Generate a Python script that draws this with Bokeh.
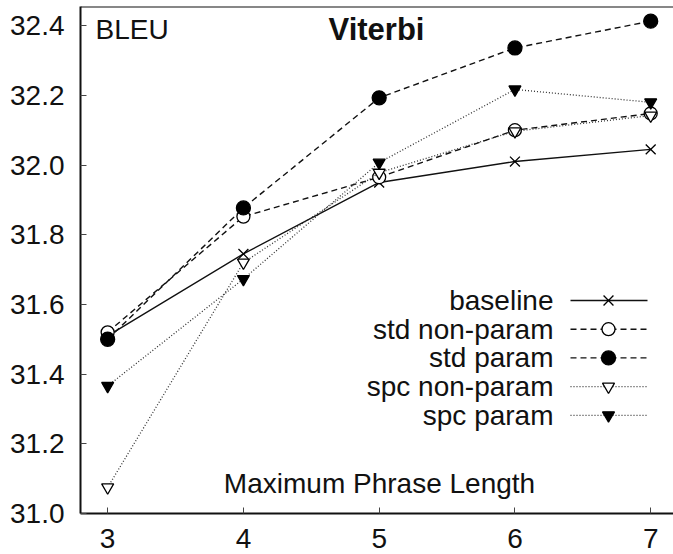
from bokeh.plotting import figure
from bokeh.models import Range1d, Span, Label, FixedTicker, PrintfTickFormatter
from bokeh.embed import file_html
from bokeh.resources import INLINE

# ---- data ----
lengths = [3, 4, 5, 6, 7]
baseline = [31.51, 31.745, 31.95, 32.01, 32.045]
std_nonparam = [31.52, 31.852, 31.965, 32.10, 32.148]
std_param = [31.50, 31.877, 32.193, 32.336, 32.413]
spc_nonparam = [31.075, 31.72, 31.978, 32.097, 32.142]
spc_param = [31.366, 31.673, 32.007, 32.217, 32.18]
series_names = ["baseline", "std non-param", "std param", "spc non-param", "spc param"]
y_ticks = [31.0, 31.2, 31.4, 31.6, 31.8, 32.0, 32.2, 32.4]
x_ticks = [3, 4, 5, 6, 7]

FONT = "Liberation Sans"
X0, X1 = 2.80, 7.168
Y0, Y1 = 31.0, 32.455
FL, FT, FW, FH = 80, 6, 593, 507  # frame geometry in pixels


def sx(px):
    return X0 + (px - FL) / FW * (X1 - X0)


def sy(py):
    return Y0 + (FT + FH - py) / FH * (Y1 - Y0)


p = figure(width=673, height=554, output_backend="svg", toolbar_location=None,
           x_range=Range1d(X0, X1), y_range=Range1d(Y0, Y1),
           min_border_left=FL, min_border_right=0, min_border_top=FT,
           min_border_bottom=554 - FT - FH)
p.outline_line_color = None
p.grid.visible = False
p.background_fill_color = "white"
p.border_fill_color = "white"

for ax in (p.xaxis[0], p.yaxis[0]):
    ax.axis_line_width = 2
    ax.axis_line_color = "#111111"
    ax.major_tick_in = 6
    ax.major_tick_out = 0
    ax.major_tick_line_color = "#444444"
    ax.major_tick_line_width = 1
    ax.minor_tick_line_color = None
    ax.major_label_text_font = FONT
    ax.major_label_text_font_size = "28px"
    ax.major_label_text_color = "#111111"

p.xaxis[0].ticker = FixedTicker(ticks=x_ticks)
p.yaxis[0].ticker = FixedTicker(ticks=y_ticks)
p.xaxis[0].major_label_standoff = 15
p.xaxis[0].major_label_text_line_height = 0.7
p.yaxis[0].major_label_standoff = 16
p.yaxis[0].formatter = PrintfTickFormatter(format="%.1f")

p.add_layout(Span(location=Y1, dimension="width", line_color="#111111", line_width=2))

styles = [
    dict(data=baseline, dash="solid", lw=1.4, color="#111111", marker="x", fill=None, size=14),
    dict(data=std_nonparam, dash="6 4", lw=1.4, color="#111111", marker="circle", fill="white", size=13),
    dict(data=std_param, dash="6 4", lw=1.4, color="#111111", marker="circle", fill="black", size=14),
    dict(data=spc_nonparam, dash="1 2", lw=1.3, color="#333333", marker="inverted_triangle", fill="white", size=12),
    dict(data=spc_param, dash="1 2", lw=1.3, color="#333333", marker="inverted_triangle", fill="black", size=12),
]

leg_y0, leg_dy = 300, 28.7
for i, (name, s) in enumerate(zip(series_names, styles)):
    p.line(lengths, s["data"], line_color=s["color"], line_width=s["lw"], line_dash=s["dash"])
    p.scatter(lengths, s["data"], marker=s["marker"], size=s["size"], line_color="black",
              line_width=1.3, fill_color=s["fill"])
    # legend entry
    ly = sy(leg_y0 + i * leg_dy)
    p.line([sx(570), sx(647)], [ly, ly], line_color=s["color"], line_width=s["lw"], line_dash=s["dash"])
    p.scatter([sx(608)], [ly], marker=s["marker"], size=s["size"], line_color="black",
              line_width=1.3, fill_color=s["fill"])
    p.add_layout(Label(x=sx(553), y=ly, text=name, text_align="right", text_baseline="middle",
                       text_font=FONT, text_font_size="28px", text_color="#111111"))

p.add_layout(Label(x=sx(95), y=sy(29), text="BLEU", text_align="left", text_baseline="middle",
                   text_font=FONT, text_font_size="28px", text_color="#111111"))
p.add_layout(Label(x=sx(376), y=sy(29), text="Viterbi", text_align="center", text_baseline="middle",
                   text_font=FONT, text_font_size="31px", text_font_style="bold", text_color="#111111"))
p.add_layout(Label(x=sx(379), y=sy(483), text="Maximum Phrase Length", text_align="center",
                   text_baseline="middle", text_font=FONT, text_font_size="28px",
                   text_color="#111111"))

open("out.html", "w").write(file_html(p, INLINE))
